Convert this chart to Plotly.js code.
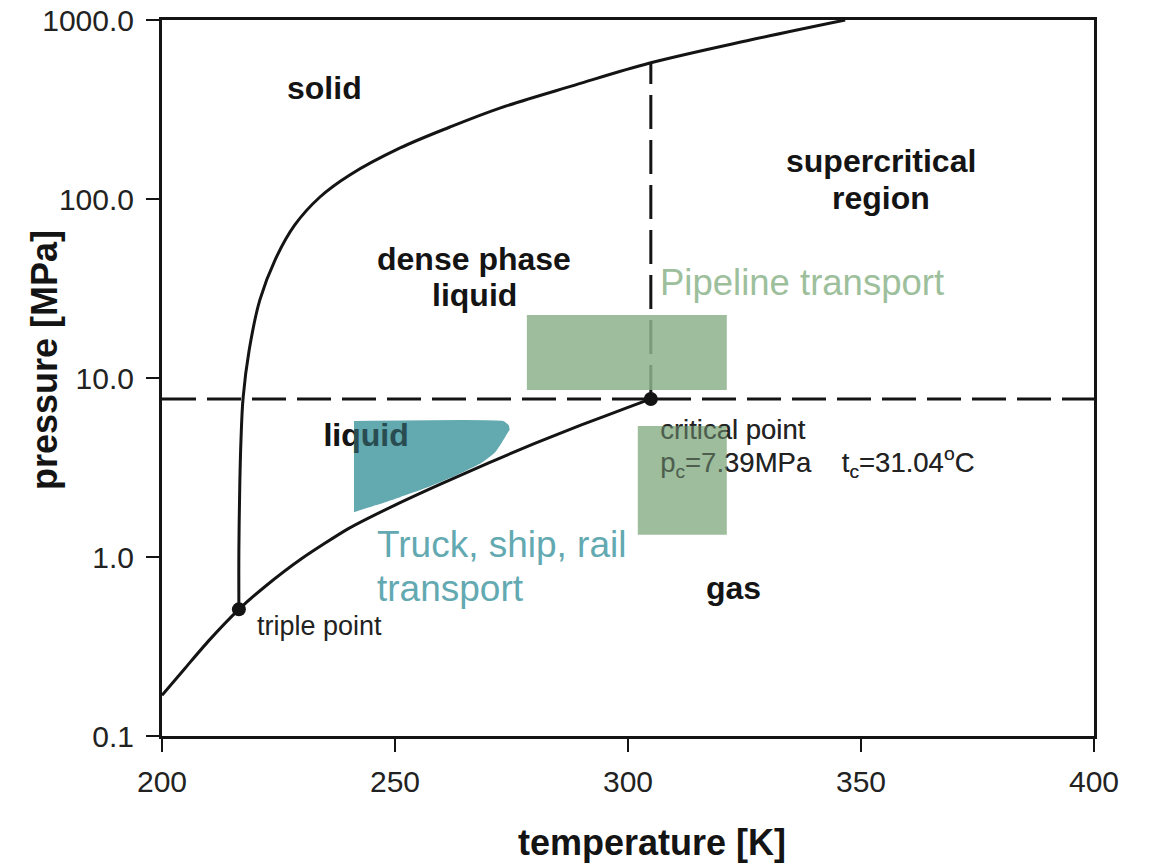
<!DOCTYPE html>
<html>
<head>
<meta charset="utf-8">
<script src="https://cdn.plot.ly/plotly-3.0.1.min.js"></script>
<style>html,body{margin:0;padding:0;background:#fff;}#chart{width:1151px;height:864px;}</style>
</head>
<body>
<div id="chart"></div>
<script>
// ---- data ----
// sublimation + vaporisation curve (T [K], p [MPa])
const vaporT = [200, 205, 210, 216.5, 222, 230, 240, 250, 260, 270, 280, 290, 300, 304.9];
const vaporP = [0.169, 0.24, 0.34, 0.51, 0.68, 0.98, 1.44, 1.95, 2.57, 3.35, 4.31, 5.47, 6.85, 7.64];
// melting curve
const meltT = [216.5, 216.5, 216.7, 216.95, 217.4, 218.7, 221.0, 224.25, 228.5, 233.9, 240.3, 251.1, 261.8, 272.5, 288.6, 304.7, 326.2, 346.6];
const meltP = [0.51, 1.09, 2.59, 4.51, 7.73, 14.3, 27.3, 45.6, 71.6, 102.6, 136.2, 192.8, 252.5, 322, 433, 575, 773, 1000];
// special points
const pointNames = ['triple point', 'critical point'];
const pointT = [216.5, 304.9];
const pointP = [0.51, 7.64];
// critical isobar / isotherm (dashed)
const isobarT = [200, 400];
const isobarP = [7.64, 7.64];
const isothermT = [304.9, 304.9];
const isothermP = [7.64, 575];
// pipeline transport boxes
const pipeBoxT0 = [278.3, 302.1];
const pipeBoxT1 = [321.2, 321.2];
const pipeBoxP0 = [8.57, 1.33];
const pipeBoxP1 = [22.5, 5.40];
// truck / ship / rail transport region outline
const truckT = [241.2, 273.2, 274.4, 274.6, 274.0, 272.9, 271.5, 268.5, 263.3, 257.0, 251.1, 246.0, 241.2];
const truckP = [5.75, 5.75, 5.45, 5.15, 4.85, 4.35, 3.85, 3.35, 2.87, 2.45, 2.16, 1.95, 1.78];
// region labels (one entry per text line)
const regionText = ['<b>solid</b>', '<b>supercritical</b>', '<b>region</b>', '<b>dense phase</b>', '<b>liquid</b>', '<b>gas</b>'];
const regionT = [234.8, 354.3, 354.3, 267.0, 267.0, 322.7];
const regionP = [417, 163, 101.4, 46.2, 29.1, 0.671];
// labels that sit under the transport overlays
const underText = ['<b>liquid</b>', 'critical point', 'p<sub>c</sub>=7.39MPa    t<sub>c</sub>=31.04<sup>o</sup>C'];
const underT = [243.8, 306.9, 306.9];
const underP = [4.63, 4.99, 3.27];
// transport labels (one entry per text line)
const transText = ['Pipeline transport', 'Truck, ship, rail', 'transport'];
const transT = [306.4, 245.7, 245.7];
const transP = [33.96, 1.167, 0.671];
// axis ticks
const xTicks = [200, 250, 300, 350, 400];
const yTicks = [0.1, 1, 10, 100, 1000];
const yTickText = ['0.1', '1.0', '10.0', '100.0', '1000.0'];

// ---- build ----
const FONT = 'Liberation Sans, Arial, sans-serif';
const INK = '#141414';
const GREEN = 'rgba(140,177,140,0.85)';
const TEAL = 'rgba(72,154,162,0.85)';
const PIPE_TXT = '#9dbf9c';
const TRUCK_TXT = '#63a9b1';

function boxPath(i) {
  return {
    x: [pipeBoxT0[i], pipeBoxT1[i], pipeBoxT1[i], pipeBoxT0[i], pipeBoxT0[i]],
    y: [pipeBoxP0[i], pipeBoxP0[i], pipeBoxP1[i], pipeBoxP1[i], pipeBoxP0[i]]
  };
}

const underFonts = [
  {family: FONT, size: 32, color: INK},
  {family: FONT, size: 27.5, color: '#222'},
  {family: FONT, size: 27.5, color: '#222'}
];

function underTrace(i, opacity) {
  return {
    x: [underT[i]], y: [underP[i]], mode: 'text', text: [underText[i]],
    textposition: i === 0 ? 'middle center' : 'middle right',
    textfont: underFonts[i], opacity: opacity, hoverinfo: 'skip', showlegend: false
  };
}

const traces = [];
traces.push({x: isobarT, y: isobarP, mode: 'lines', line: {color: INK, width: 3, dash: '34px,11px'}, hoverinfo: 'skip'});
traces.push({x: isothermT, y: isothermP, mode: 'lines', line: {color: INK, width: 3, dash: '34px,11px'}, hoverinfo: 'skip'});
traces.push({x: vaporT, y: vaporP, mode: 'lines', line: {color: INK, width: 3, shape: 'spline', smoothing: 0.6}, hoverinfo: 'skip'});
traces.push({x: meltT, y: meltP, mode: 'lines', line: {color: INK, width: 3, shape: 'spline', smoothing: 1}, hoverinfo: 'skip'});
traces.push({x: pointT, y: pointP, mode: 'markers', marker: {color: INK, size: 14}, text: pointNames, hoverinfo: 'text'});
for (let i = 0; i < underText.length; i++) traces.push(underTrace(i, 1));
for (let i = 0; i < pipeBoxT0.length; i++) {
  const b = boxPath(i);
  traces.push({x: b.x, y: b.y, mode: 'lines', fill: 'toself', fillcolor: GREEN, line: {width: 0, color: 'rgba(0,0,0,0)'}, hoverinfo: 'skip'});
}
traces.push({x: truckT, y: truckP, mode: 'lines', fill: 'toself', fillcolor: TEAL, line: {width: 0, color: 'rgba(0,0,0,0)', shape: 'spline', smoothing: 0.4}, hoverinfo: 'skip'});
for (let i = 0; i < underText.length; i++) traces.push(underTrace(i, 0.5));

const annotations = [];
for (let i = 0; i < regionText.length; i++) {
  annotations.push({x: regionT[i], y: Math.log10(regionP[i]), xref: 'x', yref: 'y', text: regionText[i],
    showarrow: false, xanchor: 'center', yanchor: 'middle', align: 'center',
    font: {family: FONT, size: 32, color: INK}});
}
annotations.push({x: transT[0], y: Math.log10(transP[0]), xref: 'x', yref: 'y', text: transText[0], showarrow: false,
  xanchor: 'left', yanchor: 'middle', align: 'left', font: {family: FONT, size: 36.5, color: PIPE_TXT}});
for (let i = 1; i < transText.length; i++) {
  annotations.push({x: transT[i], y: Math.log10(transP[i]), xref: 'x', yref: 'y', text: transText[i], showarrow: false,
    xanchor: 'left', yanchor: 'middle', align: 'left', font: {family: FONT, size: 37, color: TRUCK_TXT}});
}
annotations.push({x: 220.0, y: Math.log10(0.412), xref: 'x', yref: 'y', text: pointNames[0], showarrow: false,
  xanchor: 'left', yanchor: 'middle', font: {family: FONT, size: 27, color: '#222'}});
annotations.push({x: 0.5258, y: -0.149, xref: 'paper', yref: 'paper', text: '<b>temperature [K]</b>', showarrow: false,
  xanchor: 'center', yanchor: 'middle', font: {family: FONT, size: 36, color: INK}});
annotations.push({x: -0.1266, y: 0.525, xref: 'paper', yref: 'paper', text: '<b>pressure [MPa]</b>', showarrow: false,
  textangle: -90, xanchor: 'center', yanchor: 'middle', font: {family: FONT, size: 36, color: INK}});

const layout = {
  width: 1151, height: 864,
  margin: {l: 162, r: 57, t: 20, b: 128, pad: 0},
  paper_bgcolor: '#fff', plot_bgcolor: '#fff',
  showlegend: false,
  font: {family: FONT, color: INK},
  xaxis: {
    range: [200, 400], tickvals: xTicks, ticktext: xTicks.map(String),
    showgrid: false, zeroline: false, showline: true, mirror: true, linecolor: INK, linewidth: 3,
    ticks: 'outside', ticklen: 13, tickwidth: 2.5, tickcolor: INK, ticklabelstandoff: 4,
    tickfont: {family: FONT, size: 30, color: '#222'}
  },
  yaxis: {
    type: 'log', range: [-1, 3], tickvals: yTicks, ticktext: yTickText,
    showgrid: false, zeroline: false, showline: true, mirror: true, linecolor: INK, linewidth: 3,
    ticks: 'outside', ticklen: 13, tickwidth: 2.5, tickcolor: INK, ticklabelstandoff: 6,
    tickfont: {family: FONT, size: 30, color: '#222'}
  },
  annotations: annotations
};

Plotly.newPlot('chart', traces, layout, {displayModeBar: false, staticPlot: true});
</script>
</body>
</html>
